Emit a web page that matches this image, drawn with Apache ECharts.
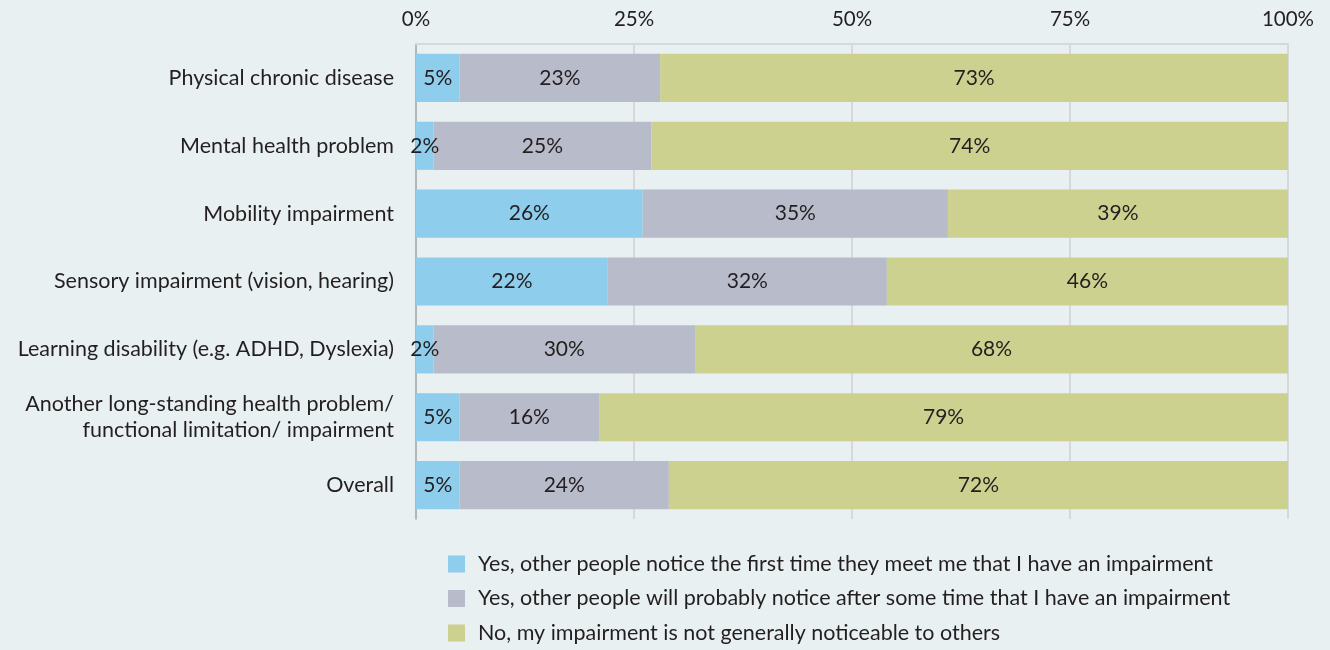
<!DOCTYPE html>
<html><head><meta charset="utf-8">
<script src="https://cdn.jsdelivr.net/npm/echarts@6/dist/echarts.min.js"></script>
<style>html,body{margin:0;padding:0;background:#e8f0f2;}#c{width:1330px;height:650px;}</style>
</head><body><div id="c"></div>
<script>
const categories = [
  "Physical chronic disease",
  "Mental health problem",
  "Mobility impairment",
  "Sensory impairment (vision, hearing)",
  "Learning disability (e.g. ADHD, Dyslexia)",
  "Another long-standing health problem/\nfunctional limitation/ impairment",
  "Overall"
];
const seriesNames = [
  "Yes, other people notice the first time they meet me that I have an impairment",
  "Yes, other people will probably notice after some time that I have an impairment",
  "No, my impairment is not generally noticeable to others"
];
const noticeFirst = [5, 2, 26, 22, 2, 5, 5];
const noticeLater = [23, 25, 35, 32, 30, 16, 24];
const notNoticeable = [73, 74, 39, 46, 68, 79, 72];
const tickValues = [0, 25, 50, 75, 100];

const colors = ["#8fcdec", "#b8bbc9", "#cdd18f"];
const font = "Lato, 'Open Sans', sans-serif";
const txt = '#231f20';
const chart = echarts.init(document.getElementById('c'));
const mk = (name, data, i) => ({
  name, type: 'bar', stack: 'total', data, barWidth: '71%', clip: true,
  itemStyle: {color: colors[i]},
  label: {show: true, position: 'inside', formatter: p => p.value + '%', color: txt, fontSize: 21, fontFamily: font},
  emphasis: {disabled: true}
});
chart.setOption({
  backgroundColor: '#e8f0f2',
  animation: false,
  grid: {left: 416, right: 42, top: 44, bottom: 131, containLabel: false},
  xAxis: {
    type: 'value', position: 'top', min: 0, max: 100, interval: 25,
    axisLine: {show: true, lineStyle: {color: '#d6d8d9', width: 2}},
    axisTick: {show: false},
    splitLine: {show: true, lineStyle: {color: '#d6d8d9', width: 2}},
    axisLabel: {formatter: v => tickValues.includes(v) ? v + '%' : '', color: txt, fontSize: 20.5, fontFamily: font, margin: 14}
  },
  yAxis: {
    type: 'category', data: categories, inverse: true,
    axisLine: {show: true, lineStyle: {color: '#a9abad', width: 1.5}},
    axisTick: {show: false},
    axisLabel: {color: txt, fontSize: 21.5, fontFamily: font, margin: 22, lineHeight: 26, align: 'right'}
  },
  legend: {
    orient: 'vertical', left: 443, top: 548, height: 100, itemWidth: 17, itemHeight: 17, itemGap: 12.5,
    icon: 'rect', textStyle: {color: txt, fontSize: 21.5, fontFamily: font, padding: [0, 0, 0, 8]},
    data: seriesNames, selectedMode: false
  },
  series: [mk(seriesNames[0], noticeFirst, 0), mk(seriesNames[1], noticeLater, 1), mk(seriesNames[2], notNoticeable, 2)]
});
</script></body></html>
